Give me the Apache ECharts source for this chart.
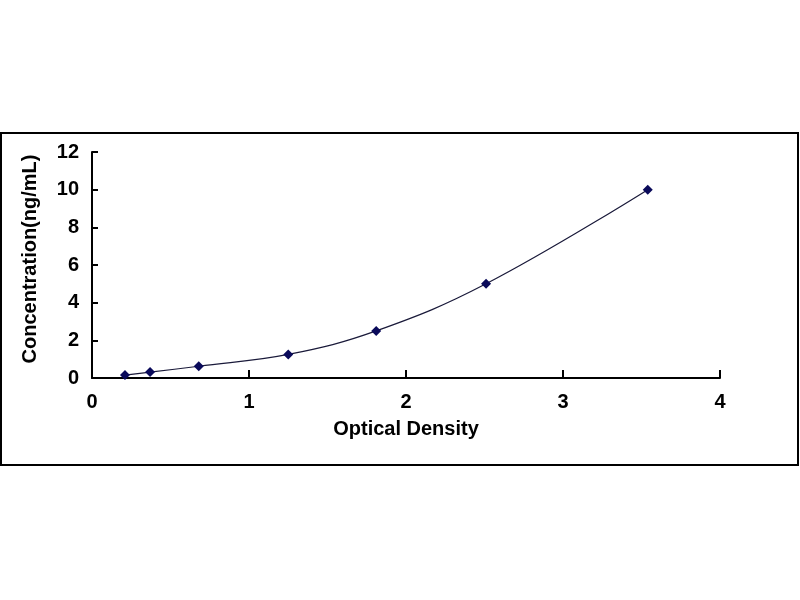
<!DOCTYPE html>
<html>
<head>
<meta charset="utf-8">
<script src="https://cdn.jsdelivr.net/npm/echarts@6/dist/echarts.min.js"></script>
<style>html,body{margin:0;padding:0;background:#fff;}#c{width:800px;height:600px;}</style>
</head>
<body>
<div id="c"></div>
<script>
var odValues = [0.21, 0.37, 0.68, 1.25, 1.81, 2.51, 3.54];
var concValues = [0.156, 0.312, 0.625, 1.25, 2.5, 5, 10];
var xTicks = [0, 1, 2, 3, 4];
var yTicks = [0, 2, 4, 6, 8, 10, 12];

var chart = echarts.init(document.getElementById('c'));
var pts = odValues.map(function (v, i) { return [v, concValues[i]]; });
var font = 'Liberation Sans, Arial, sans-serif';
chart.setOption({
  animation: false,
  graphic: [{
    type: 'rect',
    shape: { x: 1, y: 133, width: 797, height: 332 },
    style: { fill: 'none', stroke: '#000', lineWidth: 2 },
    z: 0
  }],
  grid: { left: 92, right: 80, top: 152, bottom: 222 },
  xAxis: {
    type: 'value', min: 0, max: 4, interval: 1,
    name: 'Optical Density', nameLocation: 'middle', nameGap: 41,
    nameTextStyle: { fontFamily: font, fontWeight: 'bold', fontSize: 20, color: '#000' },
    axisLine: { lineStyle: { color: '#000', width: 2 } },
    axisTick: { inside: true, length: 8, lineStyle: { color: '#000', width: 2 } },
    axisLabel: { fontFamily: font, fontWeight: 'bold', fontSize: 20, color: '#000', margin: 14 },
    splitLine: { show: false }
  },
  yAxis: {
    type: 'value', min: 0, max: 12, interval: 2,
    name: 'Concentration(ng/mL)', nameLocation: 'middle', nameGap: 52,
    nameTextStyle: { fontFamily: font, fontWeight: 'bold', fontSize: 20, color: '#000', padding: [0, 0, 0, 12] },
    axisLine: { show: true, lineStyle: { color: '#000', width: 2 } },
    axisTick: { show: true, inside: true, length: 6, lineStyle: { color: '#000', width: 2 } },
    axisLabel: { fontFamily: font, fontWeight: 'bold', fontSize: 20, color: '#000', margin: 13 },
    splitLine: { show: false }
  },
  series: [{
    type: 'line',
    data: pts,
    smooth: 0.4,
    symbol: 'diamond',
    symbolSize: 10,
    lineStyle: { color: '#1a1a3a', width: 1.2 },
    itemStyle: { color: '#0a0a5a' }
  }]
});
</script>
</body>
</html>
